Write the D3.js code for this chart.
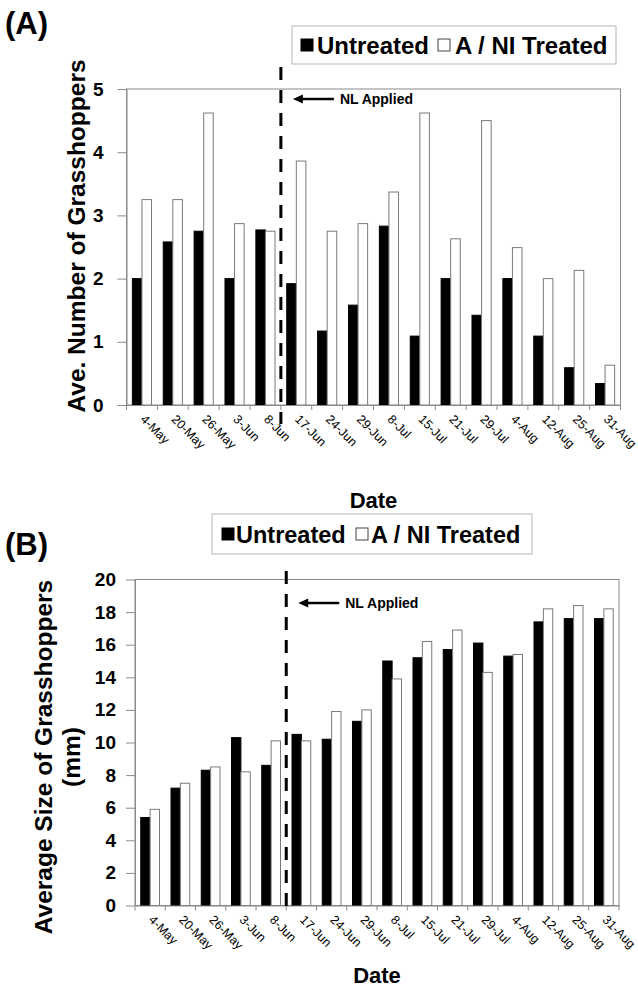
<!DOCTYPE html>
<html>
<head>
<meta charset="utf-8">
<script src="https://cdn.jsdelivr.net/npm/d3@7"></script>
<style>
  html, body { margin: 0; padding: 0; background: #fff; }
  svg { display: block; font-family: "Liberation Sans", Arial, sans-serif; }
</style>
</head>
<body>
<svg id="chart" width="638" height="990"></svg>
<script>
// ----- Data -----
const dates = ["4-May", "20-May", "26-May", "3-Jun", "8-Jun", "17-Jun", "24-Jun", "29-Jun",
               "8-Jul", "15-Jul", "21-Jul", "29-Jul", "4-Aug", "12-Aug", "25-Aug", "31-Aug"];
const seriesNames = ["Untreated", "A / NI Treated"];

// (A) average number of grasshoppers
const countUntreated = [2.0, 2.58, 2.75, 2.0, 2.77, 1.92, 1.17, 1.58, 2.83, 1.09, 2.0, 1.42, 2.0, 1.09, 0.59, 0.34];
const countTreated   = [3.25, 3.25, 4.62, 2.87, 2.75, 3.86, 2.75, 2.87, 3.37, 4.62, 2.63, 4.5, 2.49, 2.0, 2.13, 0.63];
const countTicks = [0, 1, 2, 3, 4, 5];

// (B) average size of grasshoppers (mm)
const sizeUntreated = [5.4, 7.2, 8.3, 10.3, 8.6, 10.5, 10.2, 11.3, 15.0, 15.2, 15.7, 16.1, 15.3, 17.4, 17.6, 17.6];
const sizeTreated   = [5.9, 7.5, 8.5, 8.2, 10.1, 10.1, 11.9, 12.0, 13.9, 16.2, 16.9, 14.3, 15.4, 18.2, 18.4, 18.2];
const sizeTicks = [0, 2, 4, 6, 8, 10, 12, 14, 16, 18, 20];

const appliedAfter = "8-Jun";   // NL applied between 8-Jun and 17-Jun

// ----- Styling -----
const FRAME = "#8a8a8a";
const svg = d3.select("#chart");

function drawPanel(p) {
  const g = svg.append("g");

  const x = d3.scaleBand().domain(dates).range([p.left, p.right]).padding(0);
  const w = x.bandwidth();
  const xs = d3.scaleBand().domain(seriesNames).range([w * 0.19, w * 0.81]).padding(0);
  const y = d3.scaleLinear().domain(p.domain).range([p.bottom, p.top]);

  // frame
  g.append("rect")
    .attr("x", p.left).attr("y", p.top)
    .attr("width", p.right - p.left).attr("height", p.bottom - p.top)
    .attr("fill", "none").attr("stroke", FRAME).attr("stroke-width", 1);

  // bars
  const rows = dates.map((d, i) => ({ date: d, vals: [p.untreated[i], p.treated[i]] }));
  const grp = g.selectAll("g.cat").data(rows).enter().append("g")
    .attr("transform", d => `translate(${x(d.date)},0)`);
  grp.selectAll("rect").data(d => d.vals.map((v, k) => ({ k, v }))).enter().append("rect")
    .attr("x", d => xs(seriesNames[d.k]))
    .attr("width", xs.bandwidth())
    .attr("y", d => y(d.v))
    .attr("height", d => p.bottom - y(d.v))
    .attr("fill", d => d.k === 0 ? "#000" : "#fff")
    .attr("stroke", d => d.k === 0 ? "#000" : "#7a7a7a")
    .attr("stroke-width", 1);

  // y axis
  const ya = g.append("g").attr("transform", `translate(${p.left},0)`)
    .call(d3.axisLeft(y).tickValues(p.ticks).tickFormat(d3.format("d"))
      .tickSize(9).tickPadding(p.tickPad).tickSizeOuter(0));
  ya.select(".domain").attr("stroke", FRAME);
  ya.selectAll("line").attr("stroke", FRAME);
  ya.selectAll("text").attr("fill", "#000").attr("font-size", 19).attr("font-weight", "bold")
    .attr("font-family", "Liberation Sans, Arial, sans-serif");

  // x axis: boundary ticks + rotated labels
  const xa = g.append("g").attr("transform", `translate(0,${p.bottom})`)
    .call(d3.axisBottom(x).tickSize(0).tickPadding(0).tickSizeOuter(0));
  xa.select(".domain").attr("stroke", FRAME);
  xa.selectAll("text")
    .attr("fill", "#000").attr("font-size", 12.5)
    .attr("font-family", "Liberation Sans, Arial, sans-serif")
    .attr("text-anchor", "start")
    .attr("dy", "0.35em")
    .attr("transform", "translate(1,12) rotate(45)");
  g.selectAll("line.xtick").data(dates.concat(["end"])).enter().append("line")
    .attr("x1", d => d === "end" ? p.right : x(d))
    .attr("x2", d => d === "end" ? p.right : x(d))
    .attr("y1", p.bottom).attr("y2", p.bottom + 5)
    .attr("stroke", FRAME);

  // "NL applied" dashed marker
  const xd = x(appliedAfter) + w;
  g.append("line")
    .attr("x1", xd).attr("x2", xd)
    .attr("y1", p.dashTop).attr("y2", p.dashBottom)
    .attr("stroke", "#000").attr("stroke-width", 3)
    .attr("stroke-dasharray", "13,10");
  const ay = p.arrowY;
  g.append("line")
    .attr("x1", xd + 20).attr("x2", xd + 53)
    .attr("y1", ay).attr("y2", ay)
    .attr("stroke", "#000").attr("stroke-width", 2.5);
  g.append("path")
    .attr("d", `M${xd + 12},${ay} L${xd + 22},${ay - 4.5} L${xd + 22},${ay + 4.5} Z`)
    .attr("fill", "#000");
  g.append("text")
    .attr("x", xd + 59).attr("y", ay + 5)
    .attr("font-size", 14).attr("font-weight", "bold")
    .text("NL Applied");

  // axis titles
  g.append("text")
    .attr("x", (p.left + p.right) / 2).attr("y", p.dateY)
    .attr("text-anchor", "middle")
    .attr("font-size", 22).attr("font-weight", "bold")
    .text("Date");

  p.yTitle.forEach((t, i) => {
    g.append("text")
      .attr("transform", `translate(${p.yTitleX[i]},${p.yTitleY}) rotate(-90)`)
      .attr("text-anchor", "middle")
      .attr("font-size", p.yTitleSize).attr("font-weight", "bold")
      .text(t);
  });

  // panel letter
  g.append("text")
    .attr("x", 5).attr("y", p.letterY)
    .attr("font-size", 31).attr("font-weight", "bold")
    .text(p.letter);

  // legend
  const L = p.legend;
  g.append("rect")
    .attr("x", L.x).attr("y", L.y).attr("width", L.w).attr("height", L.h)
    .attr("fill", "#fff").attr("stroke", "#b5b5b5").attr("stroke-width", 1);
  const ly = L.y + L.h / 2;
  seriesNames.forEach((name, k) => {
    g.append("rect")
      .attr("x", L.items[k].box).attr("y", ly - 6)
      .attr("width", 12).attr("height", 12)
      .attr("fill", k === 0 ? "#000" : "#fff")
      .attr("stroke", k === 0 ? "#000" : "#444").attr("stroke-width", 1);
    g.append("text")
      .attr("x", L.items[k].text).attr("y", ly + 8.5)
      .attr("font-size", L.size).attr("font-weight", "bold")
      .text(name);
  });
}

drawPanel({
  letter: "(A)", letterY: 34,
  left: 126.5, right: 620.5, top: 89, bottom: 405,
  domain: [0, 5], ticks: countTicks, tickPad: 14,
  untreated: countUntreated, treated: countTreated,
  dashTop: 67, dashBottom: 424, arrowY: 99,
  dateY: 508,
  yTitle: ["Ave. Number of Grasshoppers"], yTitleX: [85], yTitleY: 236, yTitleSize: 24.5,
  legend: { x: 292, y: 26, w: 324, h: 38, size: 24,
            items: [{ box: 301, text: 317 }, { box: 438, text: 455 }] }
});

drawPanel({
  letter: "(B)", letterY: 555,
  left: 135, right: 619, top: 579.5, bottom: 905.5,
  domain: [0, 20], ticks: sizeTicks, tickPad: 10,
  untreated: sizeUntreated, treated: sizeTreated,
  dashTop: 571, dashBottom: 915, arrowY: 603,
  dateY: 983,
  yTitle: ["Average Size of Grasshoppers", "(mm)"], yTitleX: [52, 80], yTitleY: 757, yTitleSize: 24.5,
  legend: { x: 212, y: 514, w: 320, h: 40, size: 23.5,
            items: [{ box: 222, text: 236 }, { box: 356, text: 371 }] }
});
</script>
</body>
</html>
